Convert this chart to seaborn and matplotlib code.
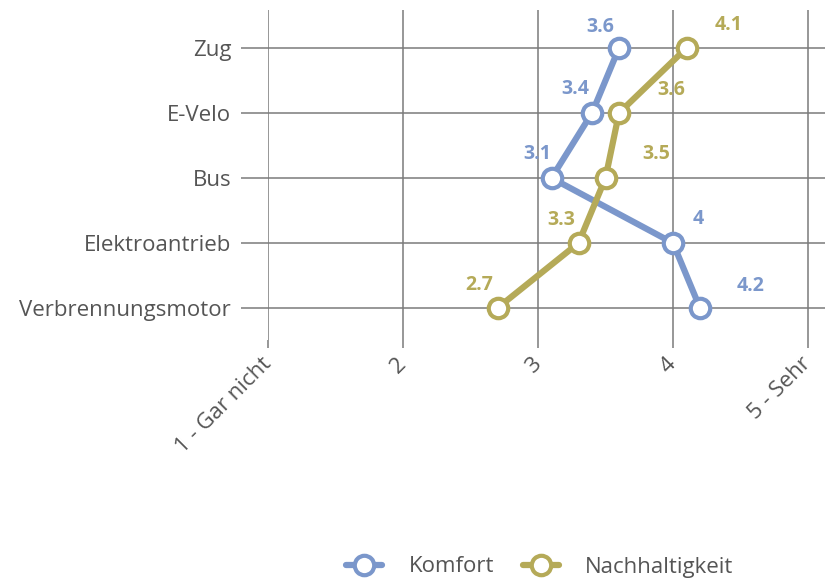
import pandas as pd
import matplotlib.pyplot as plt
import seaborn as sns

# data
modes = ['Zug', 'E-Velo', 'Bus', 'Elektroantrieb', 'Verbrennungsmotor']
komfort = [3.6, 3.4, 3.1, 4.0, 4.2]
nachhaltigkeit = [4.1, 3.6, 3.5, 3.3, 2.7]
scale_ticks = [1, 2, 3, 4, 5]
scale_labels = ['1 - Gar nicht', '2', '3', '4', '5 - Sehr']

blue = '#7b97cb'
olive = '#b5aa58'
grey = '#555555'
gridc = '#7a7a7a'

# label offsets in pixels (dx, dy)
off_k = [(-19, 21), (-17, 24), (-14, 24), (25, 24), (51, 22)]
off_n = [(42, 23), (52, 23), (51, 24), (-17, 23), (-18, 23)]

sns.set_style('white')
plt.rcParams['font.family'] = ['Open Sans', 'DejaVu Sans']

fig = plt.figure(figsize=(8.25, 5.81), dpi=100)
ax = fig.add_axes([268 / 825, 1 - 340 / 581, 1 - 268 / 825, 330 / 581])

df = pd.DataFrame({'mode': modes, 'Komfort': komfort, 'Nachhaltigkeit': nachhaltigkeit})

for col, c, offs in [('Komfort', blue, off_k), ('Nachhaltigkeit', olive, off_n)]:
    sns.lineplot(data=df, x=col, y='mode', sort=False, orient='y', ax=ax,
                 color=c, linewidth=4.5, marker='o', markersize=14,
                 markerfacecolor='white', markeredgecolor=c, markeredgewidth=3,
                 label=col, zorder=3)
    for i, v in enumerate(df[col]):
        ax.annotate(f'{v:g}', (v, i), xytext=offs[i], textcoords='offset pixels',
                    ha='center', va='center', color=c, fontsize=14, fontweight='bold')

ax.set_xlim(1, 5 + 17 / 135)
ax.set_ylim(4 + 32 / 65, -38 / 65)
ax.set_xticks(scale_ticks)
ax.set_xticklabels(scale_labels, rotation=45, ha='right', va='center', rotation_mode='anchor')
ax.set_yticks(range(len(modes)))
ax.set_yticklabels(modes)
ax.set_xlabel('')
ax.set_ylabel('')
ax.grid(True, color=gridc, linewidth=1.1)
ax.set_axisbelow(True)
for s in ax.spines.values():
    s.set_visible(False)
ax.tick_params(axis='y', length=19.5, width=1.1, color=gridc, pad=7, labelsize=16, labelcolor=grey)
ax.tick_params(axis='x', length=6, width=1.1, color=gridc, pad=9, labelsize=16, labelcolor=grey)
ax.tick_params(left=True, bottom=True)

ax.get_legend().remove()
h, l = ax.get_legend_handles_labels()
fig.legend(h, l, loc='center', bbox_to_anchor=(540 / 825, 1 - 567 / 581), ncol=2,
           frameon=False, fontsize=16, labelcolor=grey, handlelength=1.6,
           columnspacing=1.3, handletextpad=1.2)

fig.savefig('out.png', dpi=100)
